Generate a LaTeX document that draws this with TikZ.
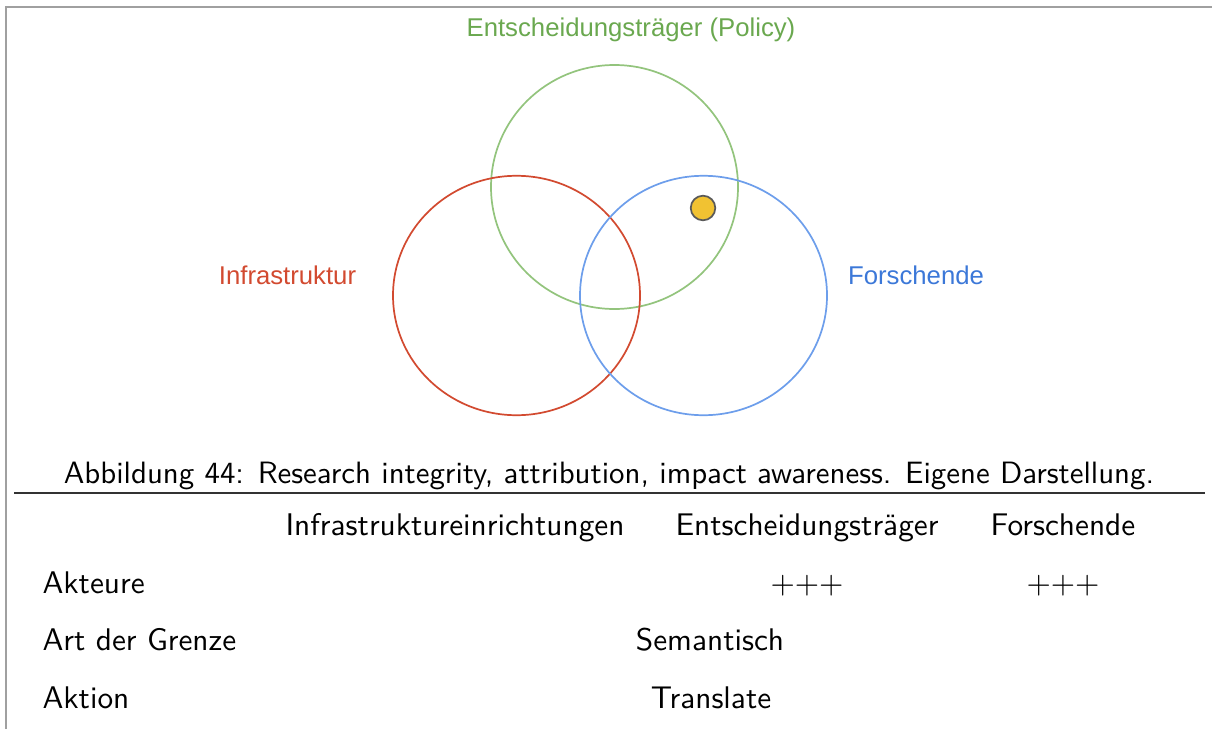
\documentclass[tikz,border=0pt]{standalone}
\usepackage{fontspec}
\usetikzlibrary{shapes.geometric}
\newfontfamily\arialfont{Liberation Sans}
\definecolor{cgreen}{HTML}{93C47D}
\definecolor{tgreen}{HTML}{6AA84F}
\definecolor{cred}{HTML}{D24A30}
\definecolor{cblue}{HTML}{6D9EEB}
\definecolor{tblue}{HTML}{3C78D8}
\definecolor{cyellow}{HTML}{F1C232}
\definecolor{frame}{HTML}{A0A0A0}
\begin{document}
\begin{tikzpicture}[x=0.35pt,y=-0.35pt,
  venn/.style={ellipse, draw, line width=0.6pt, minimum width=86.45pt, minimum height=83.8pt, inner sep=0pt},
  vlabel/.style={font=\arialfont\fontsize{9}{11}\selectfont, inner sep=0pt},
  cell/.style={font=\sffamily\fontsize{10.95}{13}\selectfont, inner sep=0pt, anchor=base},
  rowlabel/.style={cell, anchor=base west}]
\useasboundingbox (0,0) rectangle (1212,729);
% frame
\coordinate (f1) at (6,729);
\coordinate (f2) at (6,7);
\coordinate (f3) at (1212,7);
\draw[frame, line width=0.6pt] (f1) -- (f2) -- (f3);
% circles
\node[venn, draw=cgreen, minimum height=85.4pt] (policy) at (614.5,187) {};
\node[venn, draw=cred] (infra) at (516.5,295.5) {};
\node[venn, draw=cblue] (forsch) at (703.5,295.5) {};
\node[circle, fill=cyellow, draw=black!65, line width=0.6pt, minimum size=8.6pt, inner sep=0pt] (dot) at (703,208) {};
% labels
\node[vlabel, text=tgreen] (lpolicy) at (631,30) {Entscheidungsträger (Policy)};
\node[vlabel, text=cred] (linfra) at (287.5,275) {Infrastruktur};
\node[vlabel, text=tblue] (lforsch) at (916,275) {Forschende};
% caption
\node[cell, font=\sffamily\fontsize{10.8}{13}\selectfont] (cap) at (609,483) {Abbildung 44: Research integrity, attribution, impact awareness. Eigene Darstellung.};
\coordinate (r1) at (14,493);
\coordinate (r2) at (1205,493);
\draw[black!80, line width=0.4pt] (r1) -- (r2);
% table
\node[cell] (h1) at (455,535) {Infrastruktureinrichtungen};
\node[cell] (h2) at (807,535) {Entscheidungsträger};
\node[cell] (h3) at (1063,535) {Forschende};
\node[rowlabel] (a1) at (42,593) {Akteure};
\node[rowlabel] (a2) at (42,650) {Art der Grenze};
\node[rowlabel] (a3) at (42,708) {Aktion};
\node[cell] (p1) at (807,593) {$\mathord{+}\mathord{+}\mathord{+}$};
\node[cell] (p2) at (1063,593) {$\mathord{+}\mathord{+}\mathord{+}$};
\node[cell] (s1) at (710,650) {Semantisch};
\node[cell] (s2) at (711,708) {Translate};
\end{tikzpicture}
\end{document}
